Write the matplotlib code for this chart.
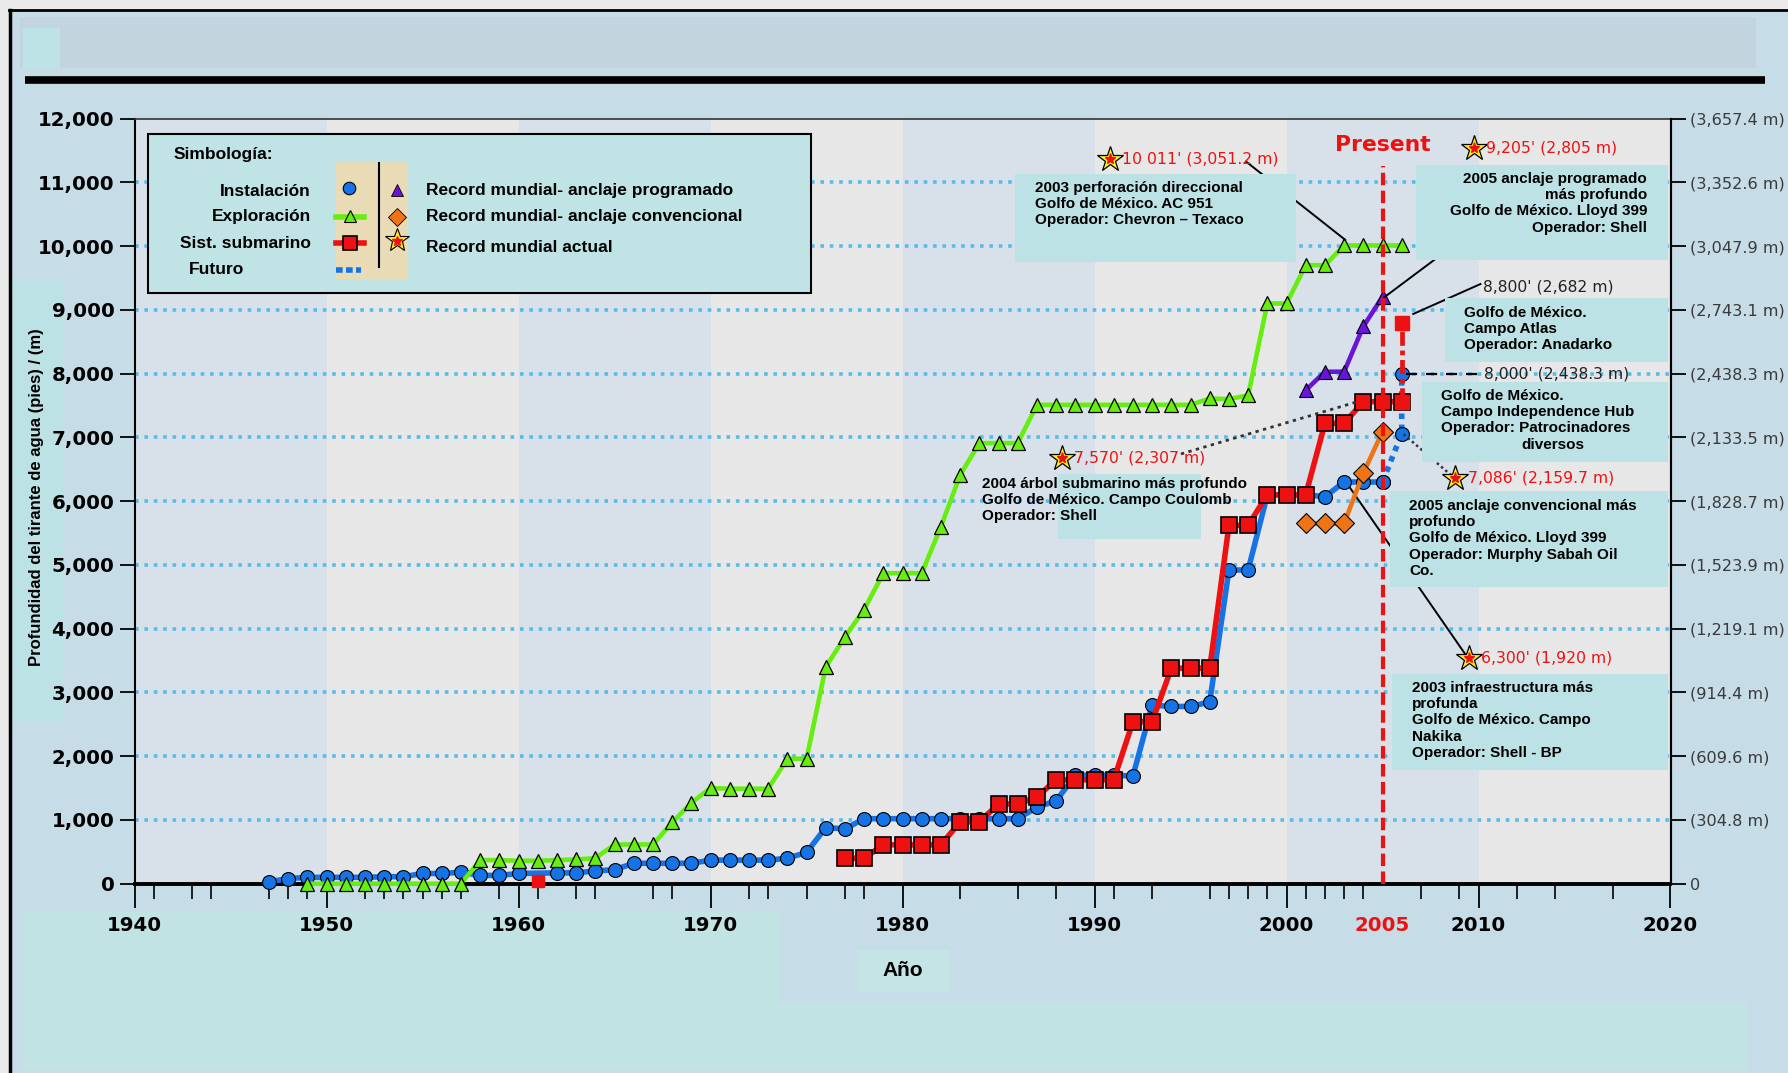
import matplotlib
matplotlib.use("Agg")
import matplotlib.pyplot as plt
from matplotlib import font_manager
from matplotlib.patches import Rectangle

# ---- values (water depth in feet) ----
inst_years = [1947, 1948, 1949, 1950, 1951, 1952, 1953, 1954, 1955, 1956, 1957, 1958, 1959, 1960,
              1962, 1963, 1964, 1965, 1966, 1967, 1968, 1969, 1970, 1971, 1972, 1973, 1974, 1975,
              1976, 1977, 1978, 1979, 1980, 1981, 1982, 1983, 1984, 1985, 1986, 1987, 1988, 1989,
              1990, 1991, 1992, 1993, 1994, 1995, 1996, 1997, 1998, 1999, 2000, 2001, 2002, 2003,
              2004, 2005]
inst_depth = [30, 80, 100, 100, 100, 100, 110, 110, 160, 160, 180, 130, 130, 160,
              170, 170, 200, 220, 320, 320, 320, 320, 370, 370, 370, 370, 400, 490,
              880, 860, 1020, 1020, 1020, 1020, 1020, 1020, 1020, 1020, 1020, 1200, 1300, 1700,
              1700, 1700, 1690, 2800, 2780, 2780, 2850, 4920, 4920, 6100, 6100, 6100, 6070, 6300,
              6300, 6300]

expl_years = list(range(1949, 2007))
expl_depth = [0, 0, 0, 0, 0, 0, 0, 0, 0,
              370, 370, 360, 360, 370, 380, 400,
              615, 615, 615,
              960, 1270, 1500, 1490, 1490, 1490, 1960, 1960,
              3400, 3870, 4300, 4870, 4870, 4870, 5600, 6410, 6910, 6910, 6910,
              7510, 7510, 7510, 7510, 7510, 7510, 7510, 7510, 7510,
              7610, 7600, 7660,
              9100, 9100, 9700, 9700, 10011, 10011, 10011, 10011]

sub_early_years = [1961]
sub_early_depth = [50]
sub_years = [1977, 1978, 1979, 1980, 1981, 1982, 1983, 1984, 1985, 1986, 1987, 1988, 1989, 1990,
             1991, 1992, 1993, 1994, 1995, 1996, 1997, 1998, 1999, 2000, 2001, 2002, 2003, 2004,
             2005, 2006]
sub_depth = [400, 400, 610, 610, 610, 610, 970, 970, 1250, 1250, 1360, 1630, 1630, 1630,
             1630, 2540, 2540, 3380, 3380, 3380, 5620, 5620, 6100, 6100, 6100, 7220, 7220, 7560,
             7560, 7560]

prog_years = [2001, 2002, 2003, 2004, 2005]
prog_depth = [7740, 8030, 8030, 8740, 9205]

conv_years = [2001, 2002, 2003, 2004, 2005]
conv_depth = [5650, 5650, 5650, 6440, 7090]

fut_inst_years = [2005, 2006, 2006]
fut_inst_depth = [6300, 7060, 8000]
fut_sub_years = [2006, 2006]
fut_sub_depth = [7560, 8800]

star_years = [1990.8, 2009.75, 2008.8, 1988.3, 2009.5]
star_depth = [11360, 11540, 6360, 6680, 3535]
star_labels = ["10 011' (3,051.2 m)", "9,205' (2,805 m)", "7,086' (2,159.7 m)",
               "7,570' (2,307 m)", "6,300' (1,920 m)"]

depth_ticks = [0, 1000, 2000, 3000, 4000, 5000, 6000, 7000, 8000, 9000, 10000, 11000, 12000]
depth_labels = ["0", "1,000", "2,000", "3,000", "4,000", "5,000", "6,000", "7,000", "8,000",
                "9,000", "10,000", "11,000", "12,000"]
meter_labels = ["0", "(304.8 m)", "(609.6 m)", "(914.4 m)", "(1,219.1 m)", "(1,523.9 m)",
                "(1,828.7 m)", "(2,133.5 m)", "(2,438.3 m)", "(2,743.1 m)", "(3,047.9 m)",
                "(3,352.6 m)", "(3,657.4 m)"]
year_ticks = [1940, 1950, 1960, 1970, 1980, 1990, 2000, 2005, 2010, 2020]
minor_years = [1941, 1943, 1944, 1947, 1948, 1949, 1952, 1953, 1954, 1955, 1956, 1957, 1959,
               1961, 1963, 1964, 1967, 1968, 1972, 1973, 1975, 1977, 1978, 1983, 1986, 1988,
               1991, 1993, 1996, 1997, 1998, 1999, 2001, 2002, 2003, 2004, 2007, 2009, 2012,
               2014, 2017]

# ---- fonts ----
names = {f.name for f in font_manager.fontManager.ttflist}
if "Liberation Sans Narrow" in names:
    NARROW, nscale = ["Liberation Sans Narrow", "DejaVu Sans"], 1.0
else:
    NARROW, nscale = ["DejaVu Sans"], 0.75
SANS = ["Liberation Sans", "DejaVu Sans"]

BLUE = "#1673e6"
GREEN = "#66ee11"
RED = "#ee1111"
PURPLE = "#6a14d8"
ORANGE = "#ee7417"
CYAN = "#bce2e5"

W, H, DPI = 1788, 1073, 100
fig = plt.figure(figsize=(W / DPI, H / DPI), dpi=DPI, facecolor="#c6dce6")

# background layer in pixel coordinates
bg = fig.add_axes([0, 0, 1, 1], zorder=0)
bg.set_xlim(0, W)
bg.set_ylim(H, 0)
bg.axis("off")


def rect(axis, x0, y0, x1, y1, **kw):
    axis.add_patch(Rectangle((x0, y0), x1 - x0, y1 - y0, **kw))


rect(bg, 0, 0, W, 9, fc="#eaeaea", lw=0)
rect(bg, 0, 0, 9, H, fc="#eaeaea", lw=0)
bg.plot([9, W], [10, 10], color="black", lw=2)
bg.plot([10, 10], [10, H], color="black", lw=2.5)
rect(bg, 20, 17, 1756, 68, fc="#c2d5df", lw=0)
rect(bg, 23, 28, 60, 68, fc="#bde3e6", lw=0)
bg.plot([25, 1765], [80, 80], color="black", lw=5.5, solid_capstyle="butt")
rect(bg, 11, 279, 63, 721, fc=CYAN, lw=0)
rect(bg, 23, 912, 779, 1003, fc="#c1e3e4", lw=0)
rect(bg, 23, 1003, 1748, 1070, fc="#c1e3e4", lw=0)
rect(bg, 857, 950, 949, 992, fc="#c4e4e6", lw=0)
bg.text(903, 971, "Año", ha="center", va="center", fontsize=15, fontweight="bold", family=SANS)
bg.text(37, 497, "Profundidad del tirante de agua (pies) / (m)", rotation=90, ha="center",
        va="center", fontsize=12, fontweight="bold", family=SANS)

# ---- main chart ----
L, R, T, B = 134.6, 1670.5, 118.6, 883.7
ax = fig.add_axes([L / W, 1 - B / H, (R - L) / W, (B - T) / H], zorder=1)
ax.set_facecolor("none")
ax.set_xlim(1940, 2020)
ax.set_ylim(0, 12000)

for i, start in enumerate(range(1940, 2020, 10)):
    ax.axvspan(start, start + 10, color="#d8e1e9" if i % 2 == 0 else "#e7e7e7", lw=0, zorder=0)

ax.hlines(depth_ticks[1:-1], 1940, 2020, colors="#55bdec", lw=2.6,
          linestyles=(0, (1, 1.6)), zorder=0.5)

for s in ["left", "right"]:
    ax.spines[s].set_linewidth(1.5)
ax.spines["bottom"].set_linewidth(2.8)
ax.spines["top"].set_linewidth(1.2)
ax.spines["top"].set_color("#333333")

ax.set_yticks(depth_ticks)
ax.set_yticklabels(depth_labels)
ax.set_xticks(year_ticks)
ax.set_xticklabels([str(y) for y in year_ticks])
ax.set_xticks(minor_years, minor=True)
ax.tick_params(axis="y", direction="out", length=10.5, width=1.3, pad=4)
ax.tick_params(axis="x", which="major", direction="out", length=17, width=1.3, pad=6)
ax.tick_params(axis="x", which="minor", direction="out", length=11, width=1.2)
for lab in ax.get_yticklabels() + ax.get_xticklabels():
    lab.set_family(NARROW)
    lab.set_fontweight("bold")
    lab.set_fontsize(19 * nscale)
for t, y in zip(ax.xaxis.get_major_ticks(), year_ticks):
    if y == 2005:
        t.tick1line.set_visible(False)
        t.label1.set_color(RED)

axr = ax.twinx()
axr.set_zorder(2)
axr.patch.set_visible(False)
for s in ["left", "top", "bottom"]:
    axr.spines[s].set_visible(False)
axr.spines["right"].set_linewidth(1.5)
axr.set_ylim(0, 12000)
axr.set_yticks(depth_ticks)
axr.set_yticklabels(meter_labels)
axr.tick_params(axis="y", direction="out", length=10.5, width=1.3, pad=3.6)
for lab in axr.get_yticklabels():
    lab.set_family(NARROW)
    lab.set_fontsize(15.5 * nscale)
    lab.set_color("#3a3a3a")

# present line
ax.vlines(2005, 0, 11250, colors=RED, lw=3, linestyles=(0, (3, 1.3)), zorder=6)
ax.text(2005, 11580, "Present", color=RED, ha="center", va="center", fontsize=21 * nscale,
        fontweight="bold", family=NARROW, zorder=6)

# series
ax.plot(inst_years, inst_depth, color=BLUE, lw=4, marker="o", ms=10, mfc=BLUE, mec="black",
        mew=0.8, zorder=3, clip_on=False)
ax.plot(expl_years, expl_depth, color=GREEN, lw=3.3, marker="^", ms=9.5, mfc=GREEN, mec="black",
        mew=0.9, zorder=3.5, clip_on=False)
ax.plot(sub_years, sub_depth, color=RED, lw=4, marker="s", ms=12, mfc=RED, mec="black",
        mew=1.2, zorder=4)
ax.plot(sub_early_years, sub_early_depth, ls="none", marker="s", ms=9, mfc=RED, mec=RED,
        zorder=4, clip_on=False)
ax.plot(conv_years, conv_depth, color=ORANGE, lw=3.3, marker="D", ms=10, mfc=ORANGE, mec="black",
        mew=0.8, zorder=4.5)
ax.plot(prog_years, prog_depth, color=PURPLE, lw=3.3, marker="^", ms=10, mfc=PURPLE, mec="black",
        mew=0.8, zorder=4.5)
ax.plot(fut_inst_years, fut_inst_depth, color=BLUE, lw=4, ls=(0, (1, 1)), marker="o", ms=10,
        mfc=BLUE, mec="black", mew=0.8, zorder=3)
ax.plot(fut_sub_years, fut_sub_depth, color=RED, lw=3.4, ls=(0, (3, 1, 1, 1)), marker="s",
        ms=10, mfc=RED, mec=RED, zorder=4.2)

# annotation leader lines
ax.plot([1997.9, 2003.05], [11324, 10100], color="black", lw=1.4, zorder=5)
ax.plot([2005.1, 2009.5], [9200, 10190], color="black", lw=1.4, zorder=5)
ax.plot([2006.6, 2010.1], [8936, 9405], color="black", lw=1.4, zorder=5)
ax.plot([2006.2, 2010.0], [8000, 8000], color="black", lw=1.6, ls=(0, (5, 4)), zorder=5)
ax.plot([2006.1, 2008.6], [7050, 6400], color="#333333", lw=1.8, ls=(0, (1, 1.2)), zorder=5)
ax.plot([1994.5, 2003.7], [6740, 7560], color="#333333", lw=2, ls=(0, (1.2, 1.6)), zorder=5)
ax.plot([2003.1, 2009.4], [6300, 3560], color="black", lw=1.4, zorder=2.8)

# record stars
ax.plot(star_years, star_depth, ls="none", marker="*", ms=19, mfc="#ffee22", mec="black",
        mew=0.9, zorder=7, clip_on=False)
ax.plot(star_years, star_depth, ls="none", marker="*", ms=8, mfc=RED, mec=RED, zorder=7.1,
        clip_on=False)
for x, y, s in zip(star_years, star_depth, star_labels):
    ax.annotate(s, (x, y), xytext=(9, 0), textcoords="offset points", va="center", ha="left",
                color=RED, fontsize=15 * nscale, family=NARROW, zorder=7, annotation_clip=False)
ax.annotate("8,800' (2,682 m)", (2010.1, 9405), xytext=(2, -2), textcoords="offset points",
            va="center", ha="left", color="#222222", fontsize=15 * nscale, family=NARROW)
ax.annotate("8,000' (2,438.3 m)", (2010.0, 8000), xytext=(4, 0), textcoords="offset points",
            va="center", ha="left", color="#222222", fontsize=15 * nscale, family=NARROW)

# ---- overlay: legend and note boxes, pixel coordinates ----
ov = fig.add_axes([0, 0, 1, 1], zorder=3)
ov.set_facecolor("none")
ov.set_xlim(0, W)
ov.set_ylim(H, 0)
ov.axis("off")

rect(ov, 148, 134, 811, 293, fc="#c0e4e6", ec="black", lw=1.5)
rect(ov, 334.5, 162, 407.7, 279, fc="#e8dbb5", lw=0)
ov.plot([379, 379], [163, 267], color="black", lw=1.5)
tkw = dict(fontsize=12.5, fontweight="bold", family=SANS, va="center")
ov.text(174, 155, "Simbología:", ha="left", **tkw)
ov.text(311, 192, "Instalación", ha="right", **tkw)
ov.text(311, 217, "Exploración", ha="right", **tkw)
ov.text(311, 243, "Sist. submarino", ha="right", **tkw)
ov.text(189, 269, "Futuro", ha="left", **tkw)
ov.text(426, 191, "Record mundial- anclaje programado", ha="left", **tkw)
ov.text(426, 217, "Record mundial- anclaje convencional", ha="left", **tkw)
ov.text(426, 247, "Record mundial actual", ha="left", **tkw)
ov.plot([349], [188], marker="o", ms=9, mfc=BLUE, mec="black", mew=0.8)
ov.plot([336, 364], [217, 217], color=GREEN, lw=4)
ov.plot([350], [216], marker="^", ms=8, mfc=GREEN, mec="black", mew=0.8)
ov.plot([336, 364], [243, 243], color=RED, lw=4)
ov.plot([350], [243], marker="s", ms=10, mfc=RED, mec="black", mew=1.2)
ov.plot([336, 361], [270, 270], color=BLUE, lw=4, ls=(0, (1.2, 0.6)))
ov.plot([396.5], [190], marker="^", ms=9, mfc=PURPLE, mec="black", mew=0.6)
ov.plot([396.5], [217], marker="D", ms=9, mfc=ORANGE, mec="black", mew=0.6)
ov.plot([396.5], [240], marker="*", ms=18, mfc="#ffee22", mec="black", mew=0.8)
ov.plot([396.5], [241], marker="*", ms=7, mfc=RED, mec=RED)

nkw = dict(fontsize=11, fontweight="bold", family=SANS, va="top", ha="left", linespacing=1.2)
rect(ov, 1015, 174, 1296, 262, fc=CYAN, lw=0)
ov.text(1035, 181, "2003 perforación direccional\nGolfo de México. AC 951\n"
        "Operador: Chevron – Texaco", **nkw)
rect(ov, 1416, 165, 1668, 260, fc=CYAN, lw=0)
ov.text(1647, 172, "2005 anclaje programado\nmás profundo\nGolfo de México. Lloyd 399\n"
        "Operador: Shell", **{**nkw, "ha": "right", "multialignment": "right"})
rect(ov, 1445, 298, 1668, 362, fc=CYAN, lw=0)
ov.text(1464, 306, "Golfo de México.\nCampo Atlas\nOperador: Anadarko", **nkw)
rect(ov, 1422, 382, 1668, 462, fc=CYAN, lw=0)
ov.text(1441, 389, "Golfo de México.\nCampo Independence Hub\nOperador: Patrocinadores", **nkw)
ov.text(1553, 438, "diversos", **{**nkw, "ha": "center"})
rect(ov, 1390, 491, 1668, 587, fc=CYAN, lw=0)
ov.text(1409, 499, "2005 anclaje convencional más\nprofundo\nGolfo de México. Lloyd 399\n"
        "Operador: Murphy Sabah Oil\nCo.", **nkw)
rect(ov, 1058, 474, 1201, 539, fc=CYAN, lw=0)
ov.text(982, 477, "2004 árbol submarino más profundo\nGolfo de México. Campo Coulomb\n"
        "Operador: Shell", **nkw)
rect(ov, 1392, 674, 1668, 770, fc=CYAN, lw=0)
ov.text(1412, 681, "2003 infraestructura más\nprofunda\nGolfo de México. Campo\nNakika\n"
        "Operador: Shell - BP", **nkw)

fig.savefig("out.png", dpi=DPI, facecolor=fig.get_facecolor())
